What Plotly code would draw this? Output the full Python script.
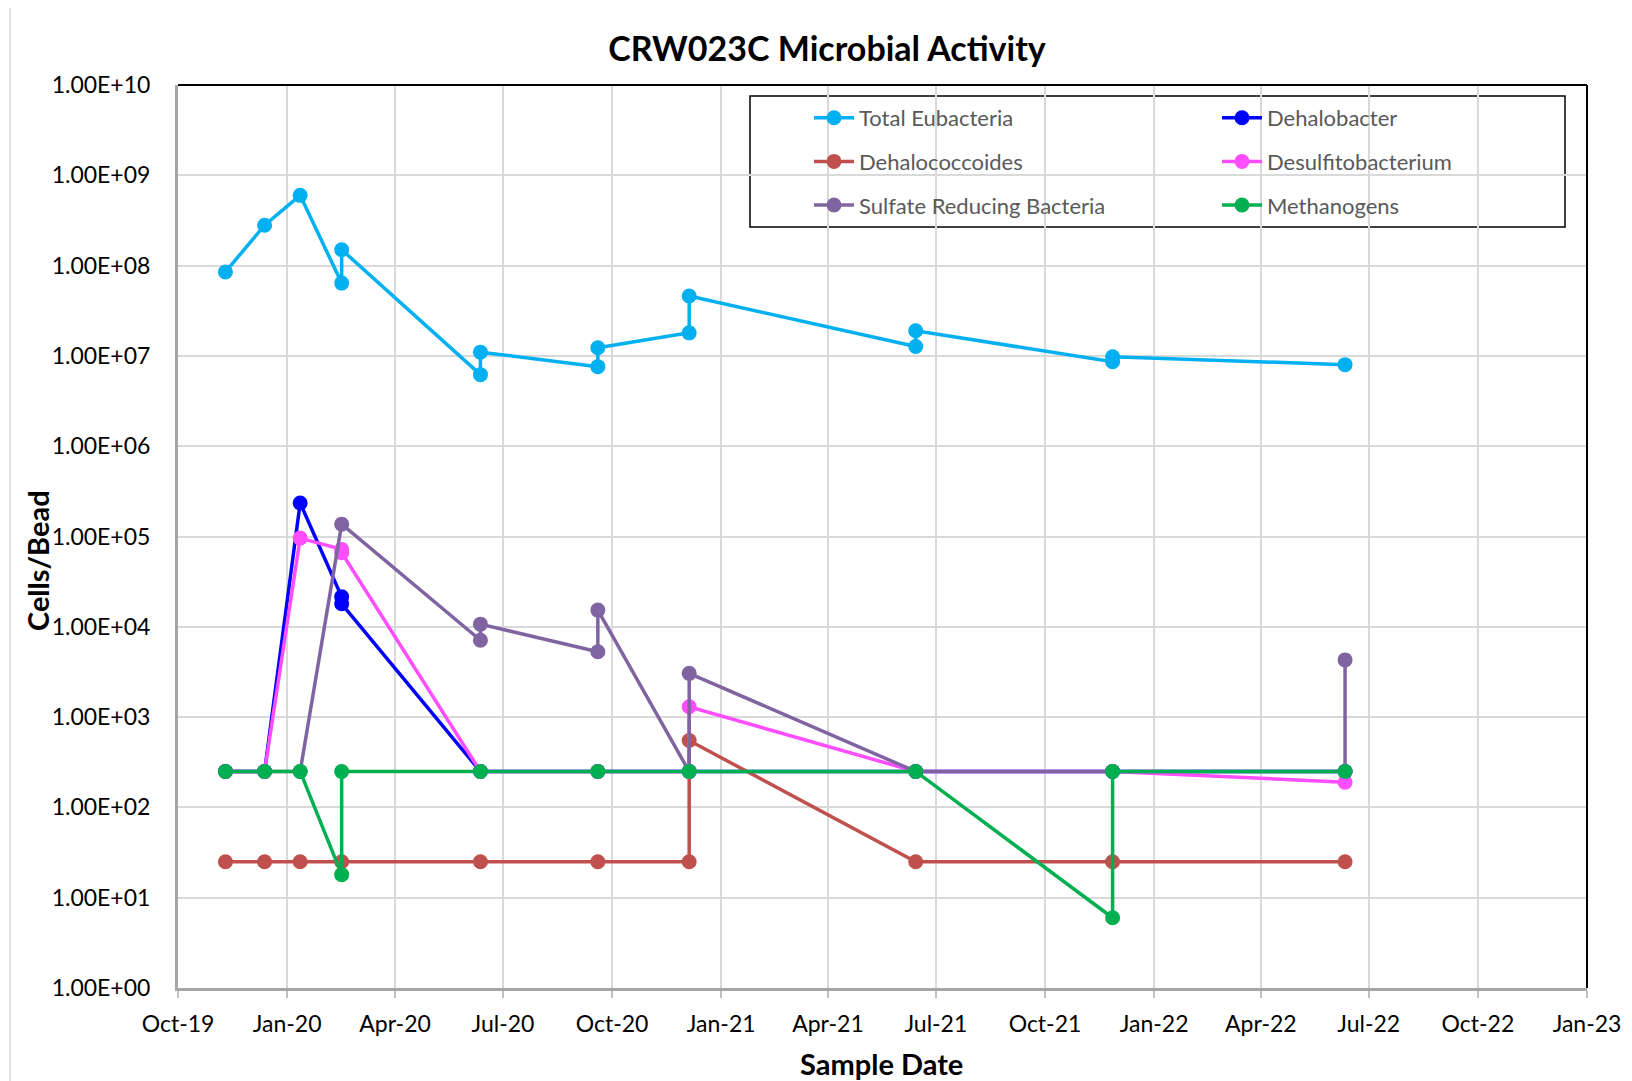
import plotly.graph_objects as go

# ---------------- data ----------------
te_dates = ["2019-11-10", "2019-12-13", "2020-01-12", "2020-02-16", "2020-02-16",
            "2020-06-12", "2020-06-12", "2020-09-19", "2020-09-19", "2020-12-05",
            "2020-12-05", "2021-06-14", "2021-06-14", "2021-11-27", "2021-11-27",
            "2022-06-11"]
te_vals = [8.5e7, 2.8e8, 6.0e8, 6.4e7, 1.5e8, 6.2e6, 1.1e7, 7.6e6, 1.23e7, 1.8e7,
           4.6e7, 1.27e7, 1.9e7, 8.6e6, 9.8e6, 8.0e6]

dhb_dates = ["2019-11-10", "2019-12-13", "2020-01-12", "2020-02-16", "2020-02-16",
             "2020-06-12", "2020-09-19", "2020-12-05", "2021-06-14", "2021-11-27",
             "2022-06-11"]
dhb_vals = [250, 250, 2.35e5, 2.15e4, 1.8e4, 250, 250, 250, 250, 250, 250]

dhc_dates = ["2019-11-10", "2019-12-13", "2020-01-12", "2020-02-16", "2020-06-12",
             "2020-09-19", "2020-12-05", "2020-12-05", "2021-06-14", "2021-11-27",
             "2022-06-11"]
dhc_vals = [25, 25, 25, 25, 25, 25, 25, 550, 25, 25, 25]

dsb_dates = ["2019-11-10", "2019-12-13", "2020-01-12", "2020-02-16", "2020-02-16",
             "2020-06-12", "2020-09-19", "2020-12-05", "2020-12-05", "2021-06-14",
             "2021-11-27", "2022-06-11"]
dsb_vals = [250, 250, 9.6e4, 7.2e4, 6.6e4, 250, 250, 250, 1.3e3, 250, 250, 190]

srb_dates = ["2019-11-10", "2019-12-13", "2020-01-12", "2020-02-16", "2020-06-12",
             "2020-06-12", "2020-09-19", "2020-09-19", "2020-12-05", "2020-12-05",
             "2021-06-14", "2021-11-27", "2022-06-11", "2022-06-11"]
srb_vals = [250, 250, 250, 1.37e5, 7.1e3, 1.07e4, 5.3e3, 1.53e4, 250, 3.05e3,
            250, 250, 250, 4.3e3]

meth_dates = ["2019-11-10", "2019-12-13", "2020-01-12", "2020-02-16", "2020-02-16",
              "2020-06-12", "2020-09-19", "2020-12-05", "2021-06-14", "2021-11-27",
              "2021-11-27", "2022-06-11"]
meth_vals = [250, 250, 250, 18, 250, 250, 250, 250, 250, 6, 250, 250]

x_ticks = ["2019-10-01", "2020-01-01", "2020-04-01", "2020-07-01", "2020-10-01",
           "2021-01-01", "2021-04-01", "2021-07-01", "2021-10-01", "2022-01-01",
           "2022-04-01", "2022-07-01", "2022-10-01", "2023-01-01"]
x_labels = ["Oct-19", "Jan-20", "Apr-20", "Jul-20", "Oct-20", "Jan-21", "Apr-21",
            "Jul-21", "Oct-21", "Jan-22", "Apr-22", "Jul-22", "Oct-22", "Jan-23"]
y_ticks = [1e0, 1e1, 1e2, 1e3, 1e4, 1e5, 1e6, 1e7, 1e8, 1e9, 1e10]
y_labels = ["1.00E+00", "1.00E+01", "1.00E+02", "1.00E+03", "1.00E+04", "1.00E+05",
            "1.00E+06", "1.00E+07", "1.00E+08", "1.00E+09", "1.00E+10"]

FONT = "Lato"

series = [
    ("Total Eubacteria", te_dates, te_vals, "#00B0F0", "legend"),
    ("Dehalobacter", dhb_dates, dhb_vals, "#0000FF", "legend2"),
    ("Dehalococcoides", dhc_dates, dhc_vals, "#C0504D", "legend"),
    ("Desulfitobacterium", dsb_dates, dsb_vals, "#FF4DFF", "legend2"),
    ("Sulfate Reducing Bacteria", srb_dates, srb_vals, "#8064A2", "legend"),
    ("Methanogens", meth_dates, meth_vals, "#00B050", "legend2"),
]

fig = go.Figure()
for name, d, v, c, lg in series:
    fig.add_trace(go.Scatter(
        x=d, y=v, name=name, mode="lines+markers",
        line=dict(color=c, width=3.5),
        marker=dict(color=c, size=15),
        legend=lg, legendgroup=name,
    ))

# page offset (browser body margin)
OFF = 8
W, H = 1632 - OFF, 1081 - OFF
L, T = 178 - OFF, 85 - OFF
R = W - (1587 - OFF)
B = H - (988 - OFF)
pw = W - L - R
ph = H - T - B


def px_x(x):
    """page pixel x -> paper fraction"""
    return (x - OFF - L) / pw


def px_y(y):
    """page pixel y -> paper fraction"""
    return (H - B - (y - OFF)) / ph


legend_common = dict(
    bgcolor="rgba(0,0,0,0)", borderwidth=0,
    font=dict(family=FONT, size=22, color="#595959"),
    orientation="v", xanchor="left", yanchor="top",
    tracegroupgap=12, itemwidth=40,
)

fig.update_layout(
    width=W, height=H,
    margin=dict(l=L, r=R, t=T, b=B),
    paper_bgcolor="white", plot_bgcolor="white",
    font=dict(family=FONT, color="black"),
    title=dict(text="<b>CRW023C Microbial Activity</b>", x=(827 - OFF) / W,
               xref="container", xanchor="center",
               y=1 - (49 - OFF) / H, yref="container", yanchor="middle",
               font=dict(family=FONT, size=34, color="black")),
    showlegend=True,
    legend=dict(x=px_x(809), y=px_y(97), **legend_common),
    legend2=dict(x=px_x(1217), y=px_y(97), **legend_common),
    xaxis=dict(
        type="date", range=["2019-10-01", "2023-01-01"],
        tickvals=x_ticks, ticktext=x_labels,
        tickfont=dict(family=FONT, size=23, color="black"),
        showgrid=True, gridcolor="#D9D9D9", gridwidth=2,
        showline=True, linecolor="#A6A6A6", linewidth=3,
        ticks="outside", ticklen=7, tickcolor="#BFBFBF", tickwidth=1.5,
        ticklabelstandoff=6, zeroline=False,
    ),
    yaxis=dict(
        type="log", range=[0, 10],
        tickvals=y_ticks, ticktext=y_labels,
        tickfont=dict(family=FONT, size=23, color="black"),
        showgrid=True, gridcolor="#D9D9D9", gridwidth=2,
        showline=True, linecolor="#A6A6A6", linewidth=3,
        ticks="", ticklabelstandoff=20, zeroline=False,
    ),
    shapes=[
        dict(type="line", xref="paper", yref="paper", x0=0, x1=1, y0=1, y1=1,
             line=dict(color="black", width=2)),
        dict(type="line", xref="paper", yref="paper", x0=1, x1=1, y0=0, y1=1,
             line=dict(color="black", width=2)),
        dict(type="rect", xref="paper", yref="paper",
             x0=px_x(750), x1=px_x(1565), y0=px_y(227), y1=px_y(96),
             line=dict(color="black", width=1.5), fillcolor="white", layer="below"),
        dict(type="rect", xref="paper", yref="paper",
             x0=px_x(10), x1=px_x(1645), y0=px_y(1095), y1=px_y(5),
             line=dict(color="#D9D9D9", width=1.5)),
    ],
    annotations=[
        dict(text="<b>Sample Date</b>", xref="paper", yref="paper",
             x=px_x(881), y=px_y(1063), xanchor="center", yanchor="middle",
             showarrow=False, font=dict(family=FONT, size=29, color="black")),
        dict(text="<b>Cells/Bead</b>", xref="paper", yref="paper",
             x=px_x(37), y=px_y(561), xanchor="center", yanchor="middle",
             textangle=-90, showarrow=False,
             font=dict(family=FONT, size=29, color="black")),
    ],
)

fig.write_html("out.html")
